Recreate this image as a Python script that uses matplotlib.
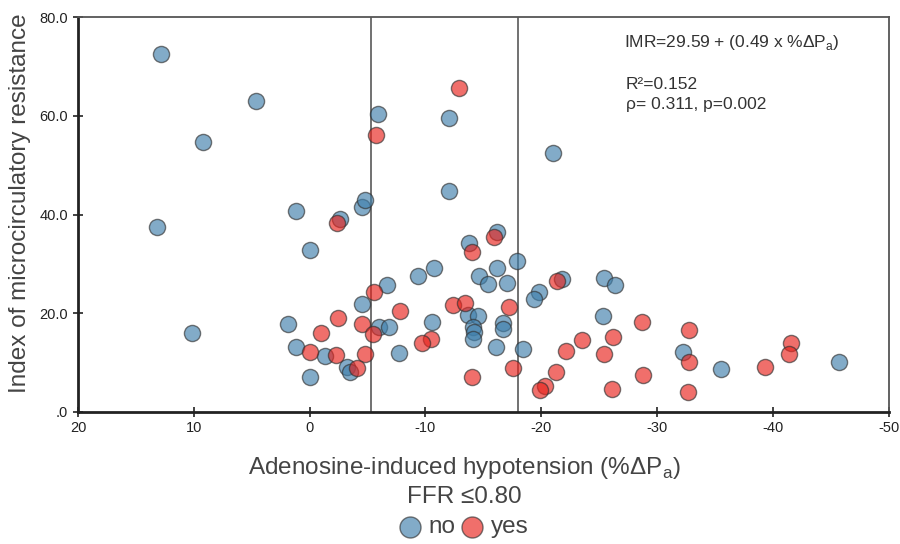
import matplotlib
matplotlib.use("Agg")
import matplotlib.pyplot as plt
import numpy as np

plt.rcParams["font.family"] = ["Liberation Sans", "DejaVu Sans"]
plt.rcParams["mathtext.fontset"] = "custom"
plt.rcParams["mathtext.rm"] = "Liberation Sans"

# FFR > 0.80 (no)
no_hypo = [12.8, 4.6, 9.2, 13.2, 10.2, 1.15, 0.0, -2.6, -4.5, -4.8,
           -5.9, -12.0, -12.0, -21.0, -16.2, -13.8, -17.9, -10.7, -9.4, -14.6,
           -16.2, -15.4, -17.0, -21.8, -19.8, -19.4, -6.7, -4.5, 1.9, 1.15,
           -1.3, -6.0, -6.85, -3.2, -3.5, 0.0, -7.7, -10.6, -13.7, -14.5,
           -14.1, -14.2, -14.1, -16.7, -16.7, -16.1, -18.4, -25.4, -26.4, -25.3,
           -32.2, -35.5, -45.7]
no_imr = [72.6, 63.0, 54.7, 37.4, 15.9, 40.8, 32.8, 39.1, 41.6, 42.9,
          60.4, 59.6, 44.8, 52.4, 36.5, 34.2, 30.6, 29.1, 27.6, 27.6,
          29.1, 26.0, 26.2, 26.9, 24.2, 22.8, 25.7, 21.8, 17.7, 13.2,
          11.2, 17.1, 17.2, 9.0, 8.1, 7.1, 12.0, 18.1, 19.6, 19.5,
          17.2, 16.2, 14.7, 17.9, 16.7, 13.1, 12.7, 27.1, 25.7, 19.4,
          12.2, 8.7, 10.1]

# FFR <= 0.80 (yes)
yes_hypo = [-2.4, -5.7, -12.9, -15.9, -14.0, -21.4, -5.6, -2.45, -0.95, -7.8,
            0.0, -2.25, -4.5, -5.5, -4.8, -4.1, -10.5, -9.7, -12.4, -13.4,
            -17.2, -17.6, -14.0, -22.1, -21.3, -20.3, -19.9, -23.5, -26.2, -25.4,
            -26.1, -28.7, -28.8, -32.8, -32.8, -32.7, -39.3, -41.6, -41.4]
yes_imr = [38.3, 56.2, 65.7, 35.5, 32.5, 26.6, 24.2, 19.1, 16.0, 20.5,
           12.2, 11.5, 17.8, 15.8, 11.7, 8.8, 14.7, 13.9, 21.6, 22.1,
           21.3, 8.8, 7.0, 12.4, 8.0, 5.3, 4.5, 14.5, 15.1, 11.8,
           4.7, 18.1, 7.4, 16.6, 10.0, 3.9, 9.1, 14.0, 11.7]

cutoffs = [-5.3, -18.0]
xticks = [20, 10, 0, -10, -20, -30, -40, -50]
yticks = [0, 20, 40, 60, 80]
ytick_labels = [".0", "20.0", "40.0", "60.0", "80.0"]

BLUE = "#3f7fab"
RED = "#e8221c"
TXT = "#444444"

fig = plt.figure(figsize=(9, 5.44), dpi=100)
ax = fig.add_axes([0.0867, 0.2432, 0.9007, 0.7248])

for xc in cutoffs:
    ax.axvline(xc, color="#666666", lw=1.3, zorder=1)

h_no = ax.scatter(no_hypo, no_imr, s=135, c=BLUE, alpha=0.65,
                  edgecolors="#333333", linewidths=1.0, zorder=3, label="no")
h_yes = ax.scatter(yes_hypo, yes_imr, s=135, c=RED, alpha=0.65,
                   edgecolors="#333333", linewidths=1.0, zorder=3, label="yes")

ax.set_xlim(20, -50)
ax.set_ylim(0, 80)
ax.set_xticks(xticks)
ax.set_xticklabels([str(t) for t in xticks])
ax.set_yticks(yticks)
ax.set_yticklabels(ytick_labels)
ax.tick_params(direction="inout", length=7, width=1.2, labelsize=10.5,
               labelcolor="#222222", color="#222222")

for side in ["left", "bottom"]:
    ax.spines[side].set_linewidth(2)
    ax.spines[side].set_color("#222222")
for side in ["top", "right"]:
    ax.spines[side].set_linewidth(1.3)
    ax.spines[side].set_color("#555555")

ax.set_ylabel("Index of microcirculatory resistance", fontsize=17.5, color=TXT)
ax.yaxis.set_label_coords(-0.058, 0.529)

# bottom block: axis title, legend heading, legend entries
fig.text(0.516, 1 - 468 / 544, r"Adenosine-induced hypotension (%$\Delta$P$_\mathregular{a}$)",
         fontsize=17.5, color=TXT, ha="center", va="center")
fig.text(0.516, 1 - 497 / 544, "FFR \u22640.80",
         fontsize=17.5, color=TXT, ha="center", va="center")

ax.text(0.673, 0.937, r"IMR=29.59 + (0.49 x %$\Delta$P$_\mathregular{a}$)",
        transform=ax.transAxes, fontsize=12.5, color="#333333", va="center")
ax.text(0.676, 0.831, "R\u00b2=0.152",
        transform=ax.transAxes, fontsize=12.5, color="#333333", va="center")
ax.text(0.676, 0.778, "\u03c1= 0.311, p=0.002",
        transform=ax.transAxes, fontsize=12.5, color="#333333", va="center")

leg = fig.legend(handles=[h_no, h_yes], loc="center", bbox_to_anchor=(0.508, 1 - 527 / 544),
                 ncol=2, frameon=False, fontsize=17.5, handletextpad=-0.25,
                 columnspacing=-0.3, markerscale=1.3, borderpad=0.0)
for t in leg.get_texts():
    t.set_color(TXT)

fig.savefig("out.png", dpi=100)
